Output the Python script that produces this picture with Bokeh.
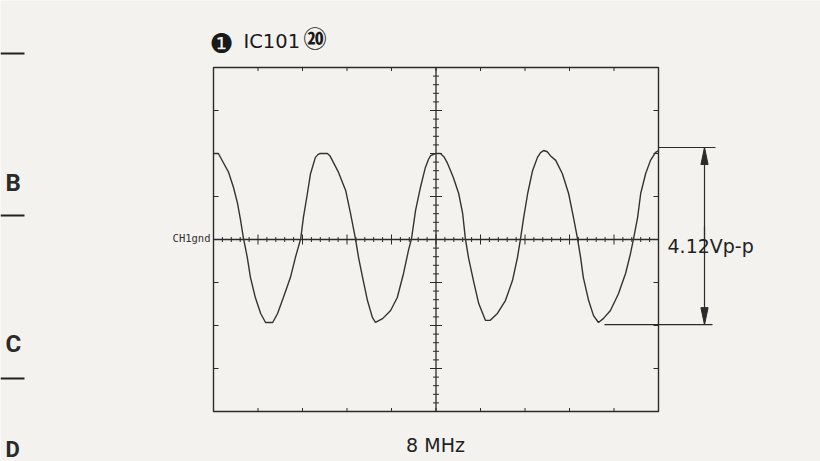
import numpy as np
from bokeh.plotting import figure
from bokeh.models import Range1d
from bokeh.embed import file_html
from bokeh.resources import INLINE
from bokeh.core.properties import value

# ---------------- data (in scope divisions) ----------------
n_hdiv = 10          # horizontal divisions
n_vdiv = 8           # vertical divisions
trace_x = [0.00, 0.11, 0.22, 0.34, 0.45, 0.54, 0.61, 0.67, 0.76, 0.83,
           0.94, 1.06, 1.17, 1.33, 1.44, 1.57, 1.73, 1.84, 1.96, 2.02,
           2.11, 2.18, 2.29, 2.35, 2.40, 2.56, 2.62, 2.67, 2.81, 2.97, 3.08, 3.19,
           3.26, 3.35, 3.46, 3.57, 3.64, 3.80, 3.98, 4.13, 4.27, 4.38,
           4.45, 4.54, 4.65, 4.76, 4.83, 4.88, 4.99, 5.10, 5.18, 5.26, 5.39, 5.51,
           5.60, 5.66, 5.73, 5.84, 5.96, 6.11, 6.22, 6.38, 6.56, 6.72,
           6.83, 6.90, 6.97, 7.06, 7.17, 7.28, 7.35, 7.42, 7.50, 7.57, 7.69, 7.84,
           7.98, 8.09, 8.18, 8.25, 8.31, 8.43, 8.54, 8.65, 8.76, 8.92,
           9.10, 9.26, 9.37, 9.44, 9.53, 9.60, 9.71, 9.82, 9.93, 10.00]
trace_y = [2.00, 2.00, 1.79, 1.56, 1.21, 0.84, 0.44, 0.05, -0.42, -0.88,
           -1.35, -1.72, -1.93, -1.93, -1.72, -1.35, -0.88, -0.42, 0.02, 0.51,
           1.07, 1.53, 1.91, 1.98, 2.00, 2.00, 1.94, 1.84, 1.56, 1.14, 0.60, 0.02,
           -0.42, -0.88, -1.42, -1.81, -1.93, -1.84, -1.65, -1.35, -0.79, -0.26,
           0.02, 0.67, 1.21, 1.67, 1.86, 1.95, 2.00, 2.00, 1.92, 1.77, 1.44, 1.07,
           0.60, 0.02, -0.42, -0.95, -1.49, -1.88, -1.88, -1.72, -1.42, -0.95,
           -0.42, 0.02, 0.51, 1.07, 1.60, 1.91, 2.02, 2.07, 2.04, 1.95, 1.84, 1.53,
           1.07, 0.51, 0.02, -0.42, -0.88, -1.42, -1.77, -1.93, -1.84, -1.65,
           -1.26, -0.79, -0.33, 0.02, 0.51, 1.07, 1.53, 1.84, 2.02, 2.07]
vpp_label = "4.12Vp-p"
vpp_top = 2.14
vpp_bottom = -1.98
title_num = "❶"
title_text = "IC101"
title_pin = "⑳"
freq_label = "8 MHz"
gnd_label = "CH1gnd"
margin_letters = ["B", "C", "D"]

# ---------------- layout helpers (picture pixels -> divisions) ----------------
X0, Y0 = 213.0, 239.0      # px of graticule left edge / centre line
SX, SY = 44.5, 43.0        # px per division
def px(xp):
    return (xp - X0) / SX
def py(yp):
    return (Y0 - yp) / SY
dx = 1.0 / SX
dy = 1.0 / SY

BG = "#f3f2ee"
INK = "#2b2b2b"
W, H = 820, 461

p = figure(width=W, height=H, output_backend="svg", toolbar_location=None,
           x_range=Range1d(px(0), px(W)), y_range=Range1d(py(H), py(0)),
           x_axis_location=None, y_axis_location=None, min_border=0,
           background_fill_color=BG, border_fill_color=BG, outline_line_color=None)
p.xgrid.visible = False
p.ygrid.visible = False

half_h = n_hdiv / 2
half_v = n_vdiv / 2

# graticule frame
p.quad(left=0, right=n_hdiv, bottom=-half_v, top=half_v, fill_alpha=0,
       line_color=INK, line_width=1.4)
# centre lines
p.segment(x0=[0, half_h], y0=[0, -half_v], x1=[n_hdiv, half_h], y1=[0, half_v],
          line_color=INK, line_width=1.3)

# ticks on centre vertical line
vt = np.round(np.arange(-half_v, half_v + 0.001, 0.2), 3)
vL = np.where(np.isclose(vt % 1, 0) | np.isclose(vt % 1, 1), 6, 3)
p.segment(x0=half_h - vL * dx, x1=half_h + vL * dx, y0=vt, y1=vt,
          line_color=INK, line_width=1)
# ticks on centre horizontal line
ht = np.round(np.arange(0, n_hdiv + 0.001, 0.2), 3)
hL = np.where(np.isclose(ht % 1, 0) | np.isclose(ht % 1, 1), 5, 2.5)
p.segment(x0=ht, x1=ht, y0=-hL * dy, y1=hL * dy, line_color=INK, line_width=1)
# border ticks
bx = np.arange(1, n_hdiv)
p.segment(x0=bx, x1=bx, y0=half_v, y1=half_v - 3.5 * dy, line_color=INK, line_width=1)
p.segment(x0=bx, x1=bx, y0=-half_v, y1=-half_v + 3.5 * dy, line_color=INK, line_width=1)
by = np.arange(-half_v + 1, half_v)
p.segment(x0=0, x1=5 * dx, y0=by, y1=by, line_color=INK, line_width=1)
p.segment(x0=n_hdiv, x1=n_hdiv - 5 * dx, y0=by, y1=by, line_color=INK, line_width=1)

# waveform
p.line(trace_x, trace_y, line_color="#333333", line_width=1.4)

# Vp-p measurement annotation
ax = px(704)
p.segment(x0=[n_hdiv, px(604)], x1=[px(715), px(712)], y0=[vpp_top, vpp_bottom],
          y1=[vpp_top, vpp_bottom], line_color=INK, line_width=1.2)
p.segment(x0=[ax, ax], x1=[ax, ax], y0=[vpp_top, 13 * dy], y1=[-14 * dy, vpp_bottom],
          line_color=INK, line_width=1.2)
hw, hl = 3.6 * dx, 17 * dy
p.patches(xs=[[ax, ax - hw, ax + hw], [ax, ax - hw, ax + hw]],
          ys=[[vpp_top, vpp_top - hl, vpp_top - hl],
              [vpp_bottom, vpp_bottom + hl, vpp_bottom + hl]],
          fill_color=INK, line_color=INK, line_width=1)
p.text(x=[px(667)], y=[py(245.5)], text=[vpp_label], text_font=value("DejaVu Sans"),
       text_font_size="19px", text_color="#222222", text_align="left",
       text_baseline="alphabetic")

# ground label
p.text(x=[px(210)], y=[py(237.5)], text=[gnd_label], text_font=value("DejaVu Sans Mono"),
       text_font_size="10.5px", text_color="#333333", text_align="right",
       text_baseline="alphabetic")

# title
p.text(x=[px(209)], y=[py(43)], text=[title_num], text_font=value("DejaVu Sans"),
       text_font_size="27px", text_color="#1a1a1a", text_align="left",
       text_baseline="alphabetic")
p.text(x=[px(243)], y=[py(41)], text=[title_text], text_font=value("DejaVu Sans"),
       text_font_size="19.5px", text_color="#1a1a1a", text_align="left",
       text_baseline="alphabetic")
p.text(x=[px(303)], y=[py(36)], text=[title_pin], text_font=value("Noto Sans CJK JP"),
       text_font_style="bold", text_font_size="23px", text_color="#1a1a1a",
       text_align="left", text_baseline="middle")

# frequency label
p.text(x=[px(435)], y=[py(444)], text=[freq_label], text_font=value("DejaVu Sans"),
       text_font_size="19px", text_color="#222222", text_align="center",
       text_baseline="alphabetic")

# page margin marks
p.segment(x0=px(0), x1=px(24), y0=[py(53), py(215), py(378)], y1=[py(53), py(215), py(378)],
          line_color="#222222", line_width=2)
p.text(x=[px(5)] * 2, y=[py(182), py(343)], text=margin_letters[:2],
       text_font=value("Roboto"), text_font_style="bold", text_font_size="24px",
       text_color="#2a2a2a", text_align="left", text_baseline="alphabetic")
p.text(x=[px(5)], y=[py(449)], text=margin_letters[2:],
       text_font=value("Roboto"), text_font_style="bold", text_font_size="22px",
       text_color="#2a2a2a", text_align="left", text_baseline="alphabetic")

open("out.html", "w").write(file_html(p, INLINE))
